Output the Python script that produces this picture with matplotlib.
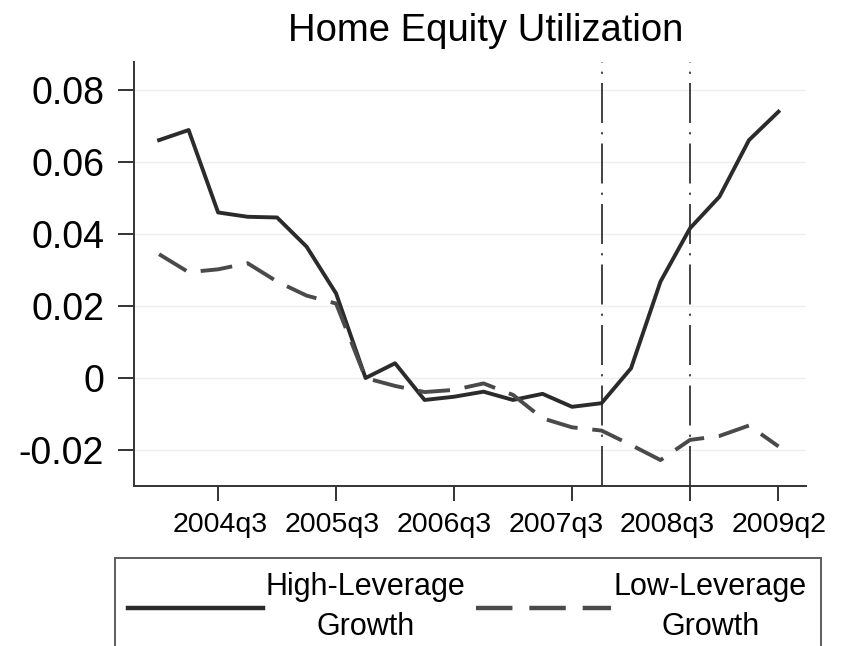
import matplotlib
matplotlib.use("Agg")
import matplotlib.pyplot as plt
from matplotlib.transforms import ScaledTranslation

plt.rcParams['font.family'] = ['Liberation Sans', 'DejaVu Sans']

# quarterly data, 2004q1 .. 2009q2
quarters = ['2004q1', '2004q2', '2004q3', '2004q4', '2005q1', '2005q2', '2005q3', '2005q4',
            '2006q1', '2006q2', '2006q3', '2006q4', '2007q1', '2007q2', '2007q3', '2007q4',
            '2008q1', '2008q2', '2008q3', '2008q4', '2009q1', '2009q2']
high_leverage = [0.0661, 0.0689, 0.0460, 0.0448, 0.0446, 0.0365, 0.0235, 0.0000,
                 0.0041, -0.0061, -0.0052, -0.0038, -0.0061, -0.0044, -0.0080, -0.0070,
                 0.0027, 0.0268, 0.0416, 0.0504, 0.0661, 0.0740]
low_leverage = [0.0344, 0.0294, 0.0302, 0.0319, 0.0268, 0.0229, 0.0207, 0.0000,
                -0.0022, -0.0039, -0.0033, -0.0015, -0.0047, -0.0112, -0.0137, -0.0146,
                -0.0186, -0.0228, -0.0172, -0.0161, -0.0132, -0.0190]
xtick_labels = ['2004q3', '2005q3', '2006q3', '2007q3', '2008q3', '2009q2']
event_quarters = ['2007q4', '2008q3']
yticks = [-0.02, 0, 0.02, 0.04, 0.06, 0.08]
ytick_labels = ['-0.02', '0', '0.02', '0.04', '0.06', '0.08']

x = list(range(len(quarters)))

fig = plt.figure(figsize=(8.43, 6.46), dpi=100)
ax = fig.add_axes([0.159, 0.2477, 0.797, 0.6563])

ax.plot(x, high_leverage, color='#2b2b2b', lw=2.8, solid_joinstyle='round',
        label='High-Leverage\nGrowth', zorder=3)
ax.plot(x, low_leverage, color='#4a4a4a', lw=2.8, dashes=(8.2, 3.8),
        label='Low-Leverage\nGrowth', zorder=3)

# event markers
for q in event_quarters:
    ax.axvline(quarters.index(q), color='#222222', lw=1.2, dashes=(24, 5.5, 1.3, 5.5), zorder=2)

ax.set_xlim(-0.85, 21.93)
ax.set_ylim(-0.03, 0.0878)
ax.set_yticks(yticks)
ax.set_yticklabels(ytick_labels)
ax.set_xticks([quarters.index(q) for q in xtick_labels])
ax.set_xticklabels(xtick_labels)

ax.grid(axis='y', color='#eeeeee', lw=1.0)
ax.set_axisbelow(True)
for s in ['top', 'right']:
    ax.spines[s].set_visible(False)
for s in ['left', 'bottom']:
    ax.spines[s].set_color('#333333')
    ax.spines[s].set_linewidth(1.4)

ax.tick_params(axis='y', labelsize=27, length=11.5, width=1.4, color='#333333', pad=10, direction='out')
ax.tick_params(axis='x', labelsize=20.5, length=11, width=1.4, color='#333333', pad=8, direction='out')

# labels drift left of their ticks in the original so they don't collide
label_shift_px = [2, -4, -10, -16, -23, 1]
for lab, dx in zip(ax.get_xticklabels(), label_shift_px):
    lab.set_transform(lab.get_transform() + ScaledTranslation(dx / 100, 0, fig.dpi_scale_trans))

fig.text(0.576, 0.937, 'Home Equity Utilization', fontsize=27.5, ha='center', va='baseline')

leg = ax.legend(loc='upper left', bbox_to_anchor=(0.136, 0.136), bbox_transform=fig.transFigure,
                ncol=2, fontsize=22, frameon=True, fancybox=False, edgecolor='#333333',
                handlelength=4.4, handletextpad=0.1, columnspacing=0.35, borderpad=0.45,
                borderaxespad=0)
leg.get_frame().set_linewidth(1.4)
for t in leg.get_texts():
    t.set_multialignment('center')
    t.set_linespacing(1.45)
for h in leg.get_lines():
    h.set_linewidth(3.2)

fig.savefig('out.png', dpi=100)
